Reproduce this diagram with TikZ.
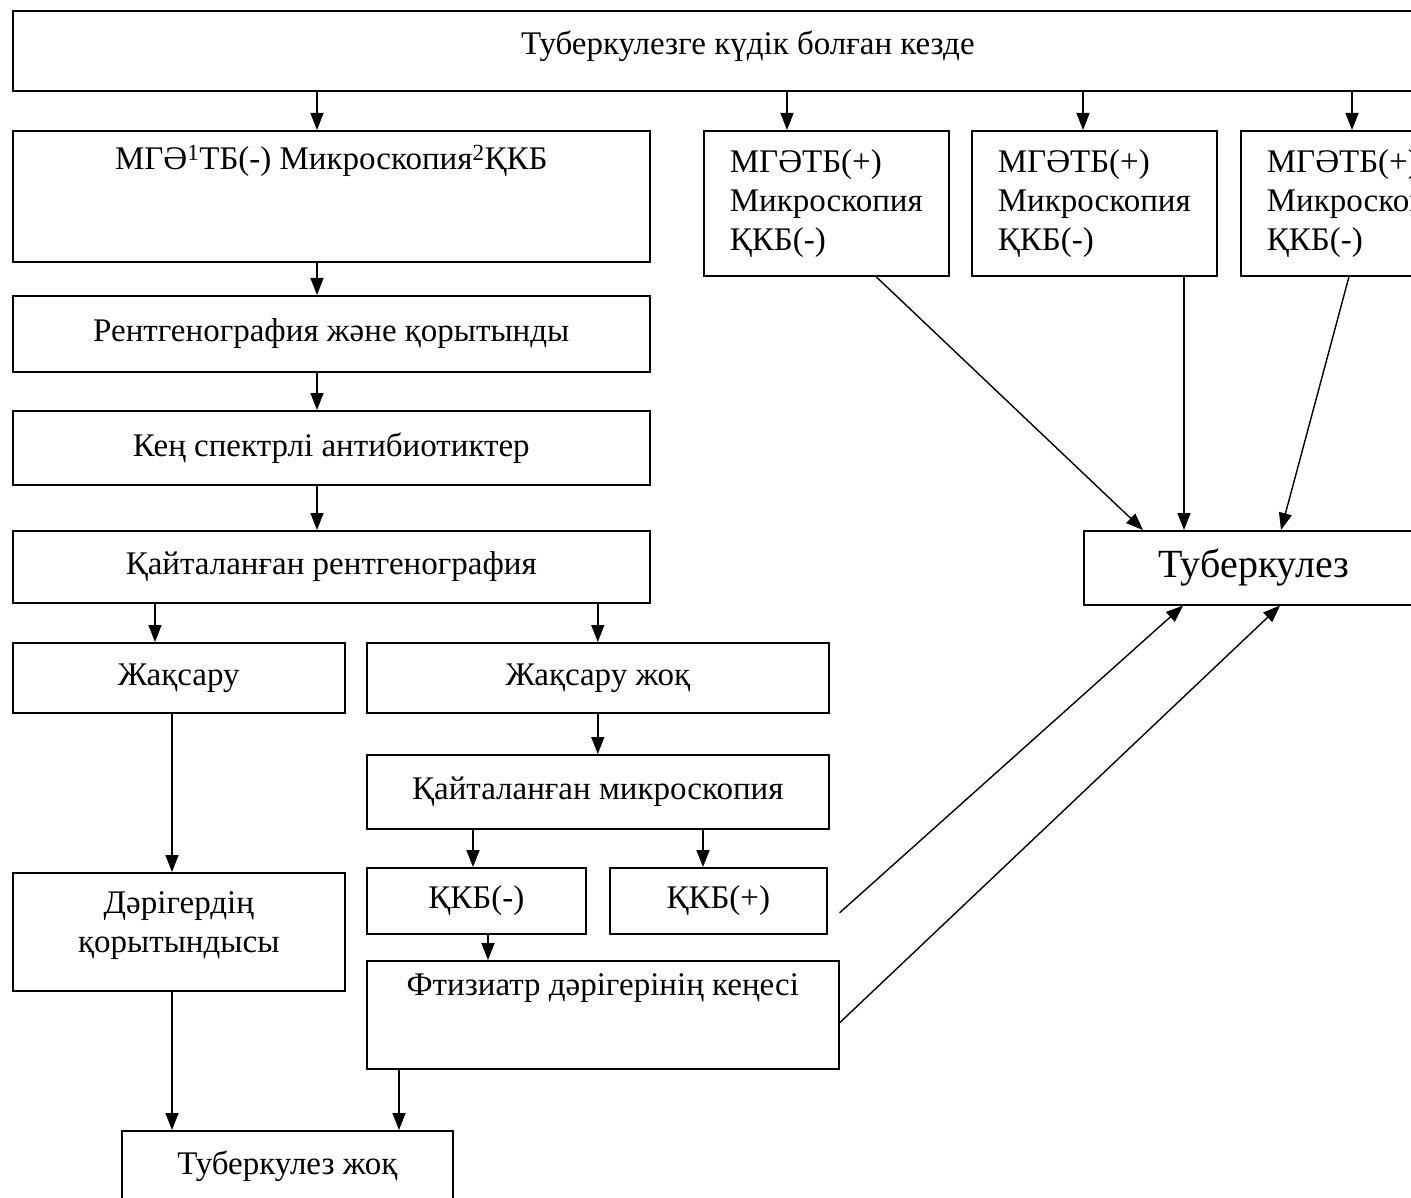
\documentclass[tikz,border=0pt]{standalone}
\usepackage{fontspec}
\setmainfont{Liberation Serif}
\usepackage{tikz}
\usetikzlibrary{arrows.meta}

\tikzset{
  box/.style={draw, line width=1.6pt, anchor=north west, inner sep=0pt, align=center,
    font=\fontsize{33}{39}\selectfont},
  arr/.style={line width=1.6pt, -{Triangle[length=17pt,width=13pt]}},
  ln/.style={line width=1.4pt, -{Triangle[length=17pt,width=13pt]}}
}

\begin{document}
\begin{tikzpicture}[x=1pt,y=-1pt]
  \useasboundingbox (0,0) rectangle (1411,1198);
  \clip (0,0) rectangle (1411,1198);
  % top row
  \node[box, minimum width=1470pt, minimum height=80pt] (top) at (12,10) {Туберкулезге күдік болған кезде\\[-23pt]};
  \node[box, minimum width=637pt, minimum height=131pt] (mge) at (12,130)
    {МГӘ\textsuperscript{1}ТБ(-) Микроскопия\textsuperscript{2}ҚКБ\\~\\~};
  \node[box, align=left, minimum width=245pt, minimum height=145pt] (pos1) at (703,130) {МГӘТБ(+)\\Микроскопия\\ҚКБ(-)};
  \node[box, align=left, minimum width=245pt, minimum height=145pt] (pos2) at (971,130) {МГӘТБ(+)\\Микроскопия\\ҚКБ(-)};
  \node[box, align=left, minimum width=245pt, minimum height=145pt] (pos3) at (1240,130) {МГӘТБ(+)\\Микроскопия\\ҚКБ(-)};
  % left column
  \node[box, minimum width=637pt, minimum height=76pt] (rtg) at (12,295) {Рентгенография және қорытынды};
  \node[box, minimum width=637pt, minimum height=74pt] (abx) at (12,410) {Кең спектрлі антибиотиктер};
  \node[box, minimum width=637pt, minimum height=72pt] (rep) at (12,530) {Қайталанған рентгенография};
  \node[box, minimum width=332pt, minimum height=70pt] (imp) at (12,642) {Жақсару};
  \node[box, minimum width=462pt, minimum height=70pt] (noimp) at (366,642) {Жақсару жоқ};
  \node[box, minimum width=462pt, minimum height=74pt] (micro) at (366,754) {Қайталанған микроскопия};
  \node[box, minimum width=219pt, minimum height=66pt] (kkbneg) at (366,867) {ҚКБ(-)};
  \node[box, minimum width=217pt, minimum height=66pt] (kkbpos) at (609,867) {ҚКБ(+)};
  \node[box, minimum width=332pt, minimum height=118pt] (doc) at (12,872) {Дәрігердің\\қорытындысы\\[-19pt]};
  \node[box, minimum width=472pt, minimum height=108pt] (ftiz) at (366,960) {Фтизиатр дәрігерінің кеңесі\\[22pt]~};
  \node[box, minimum width=331pt, minimum height=90pt] (notb) at (121,1130) {Туберкулез жоқ\\[-13pt]};
  \node[box, minimum width=340pt, minimum height=74pt, font=\fontsize{40}{46}\selectfont] (tb) at (1083,530) {Туберкулез};

  % arrows
  \draw[arr] ([xshift=305pt]top.south west) -- ([xshift=305pt]mge.north west);
  \draw[arr] ([xshift=775pt]top.south west) -- ([xshift=84pt]pos1.north west);
  \draw[arr] ([xshift=1071pt]top.south west) -- ([xshift=112pt]pos2.north west);
  \draw[arr] ([xshift=1340pt]top.south west) -- ([xshift=112pt]pos3.north west);
  \draw[arr] ([xshift=305pt]mge.south west) -- ([xshift=305pt]rtg.north west);
  \draw[arr] ([xshift=305pt]rtg.south west) -- ([xshift=305pt]abx.north west);
  \draw[arr] ([xshift=305pt]abx.south west) -- ([xshift=305pt]rep.north west);
  \draw[arr] ([xshift=143pt]rep.south west) -- ([xshift=143pt]imp.north west);
  \draw[arr] (rep.south -| noimp.north) -- (noimp.north);
  \draw[arr] (noimp.south) -- (micro.north);
  \draw[arr] ([xshift=107pt]micro.south west) -- ([xshift=107pt]kkbneg.north west);
  \draw[arr] ([xshift=337pt]micro.south west) -- ([xshift=94pt]kkbpos.north west);
  \draw[arr] ([xshift=160pt]imp.south west) -- ([xshift=160pt]doc.north west);
  \draw[arr] ([xshift=122pt]kkbneg.south west) -- ([xshift=122pt]ftiz.north west);
  \draw[arr] ([xshift=160pt]doc.south west) -- ([xshift=51pt]notb.north west);
  \draw[arr] ([xshift=33pt]ftiz.south west) -- ([xshift=278pt]notb.north west);
  % to Туберкулез
  \draw[ln] ([xshift=173pt]pos1.south west) -- ([xshift=60pt]tb.north west);
  \draw[ln] ([xshift=213pt]pos2.south west) -- ([xshift=101pt]tb.north west);
  \draw[ln] ([xshift=109pt]pos3.south west) -- ([xshift=198pt]tb.north west);
  \draw[ln] ([xshift=12pt,yshift=-12pt]kkbpos.east) -- ([xshift=100pt]tb.south west);
  \draw[ln] ([yshift=-8pt]ftiz.east) -- ([xshift=197pt]tb.south west);
\end{tikzpicture}
\end{document}
